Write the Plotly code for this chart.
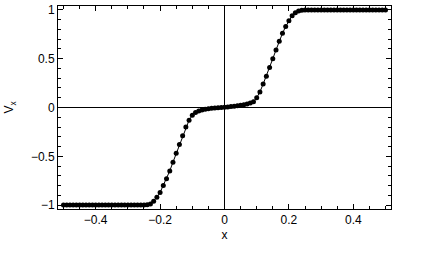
import plotly.graph_objects as go

x_values = [
    -0.50, -0.49, -0.48, -0.47, -0.46, -0.45, -0.44, -0.43, -0.42, -0.41,
    -0.40, -0.39, -0.38, -0.37, -0.36, -0.35, -0.34, -0.33, -0.32, -0.31,
    -0.30, -0.29, -0.28, -0.27, -0.26, -0.25, -0.24,
    -0.23, -0.22, -0.21, -0.20, -0.19, -0.18, -0.17, -0.16, -0.15, -0.14,
    -0.13, -0.12, -0.11, -0.10, -0.09,
    -0.08, -0.07, -0.06, -0.05, -0.04, -0.03, -0.02, -0.01, 0.00,
    0.01, 0.02, 0.03, 0.04, 0.05, 0.06, 0.07, 0.08,
    0.09, 0.10, 0.11, 0.12, 0.13, 0.14, 0.15, 0.16, 0.17, 0.18,
    0.19, 0.20, 0.21, 0.22, 0.23, 0.24,
    0.25, 0.26, 0.27, 0.28, 0.29, 0.30, 0.31, 0.32, 0.33, 0.34,
    0.35, 0.36, 0.37, 0.38, 0.39, 0.40, 0.41, 0.42, 0.43, 0.44,
    0.45, 0.46, 0.47, 0.48, 0.49, 0.50,
]

vx_values = [
    -1.0, -1.0, -1.0, -1.0, -1.0, -1.0, -1.0, -1.0, -1.0, -1.0,
    -1.0, -1.0, -1.0, -1.0, -1.0, -1.0, -1.0, -1.0, -1.0, -1.0,
    -1.0, -1.0, -1.0, -1.0, -1.0, -1.0, -0.997,
    -0.99, -0.96, -0.92, -0.87, -0.80, -0.73, -0.65, -0.56, -0.47, -0.38,
    -0.29, -0.20, -0.13, -0.08, -0.05,
    -0.035, -0.025, -0.018, -0.012, -0.008, -0.005, -0.003, 0.0, 0.003,
    0.006, 0.010, 0.014, 0.018, 0.022, 0.028, 0.035, 0.045,
    0.06, 0.10, 0.16, 0.24, 0.32, 0.41, 0.50, 0.59, 0.68, 0.76,
    0.83, 0.89, 0.94, 0.97, 0.99, 0.997,
    1.0, 1.0, 1.0, 1.0, 1.0, 1.0, 1.0, 1.0, 1.0, 1.0,
    1.0, 1.0, 1.0, 1.0, 1.0, 1.0, 1.0, 1.0, 1.0, 1.0,
    1.0, 1.0, 1.0, 1.0, 1.0, 1.0,
]

x_title = "x"
y_title = "V<sub>x</sub>"

fig = go.Figure()
fig.add_trace(go.Scatter(
    x=x_values, y=vx_values, mode="lines+markers",
    line=dict(color="black", width=1),
    marker=dict(color="black", size=5),
    showlegend=False,
))

font = dict(family="Liberation Sans, Arial, sans-serif", size=12, color="black")

fig.update_layout(
    width=422, height=261,
    margin=dict(l=58, r=31, t=3, b=52),
    paper_bgcolor="white", plot_bgcolor="white",
    font=font,
)

fig.update_xaxes(
    range=[-0.517, 0.517],
    tick0=0, dtick=0.2,
    ticks="inside", ticklen=5, tickwidth=1, tickcolor="black",
    showline=True, linecolor="black", linewidth=1, mirror="ticks",
    minor=dict(tick0=0, dtick=0.05, ticks="inside", ticklen=3, tickcolor="black", showgrid=False),
    showgrid=False,
    zeroline=True, zerolinecolor="black", zerolinewidth=1,
    title=dict(text=x_title, standoff=4, font=font),
    tickfont=font,
)
fig.update_yaxes(
    range=[-1.04, 1.04],
    tick0=0, dtick=0.5,
    ticks="inside", ticklen=5, tickwidth=1, tickcolor="black",
    showline=True, linecolor="black", linewidth=1, mirror="ticks",
    minor=dict(tick0=0, dtick=0.1, ticks="inside", ticklen=3, tickcolor="black", showgrid=False),
    showgrid=False,
    zeroline=True, zerolinecolor="black", zerolinewidth=1,
    title=dict(text=y_title, standoff=14, font=font),
    tickfont=font,
)

fig.write_html("out.html")
